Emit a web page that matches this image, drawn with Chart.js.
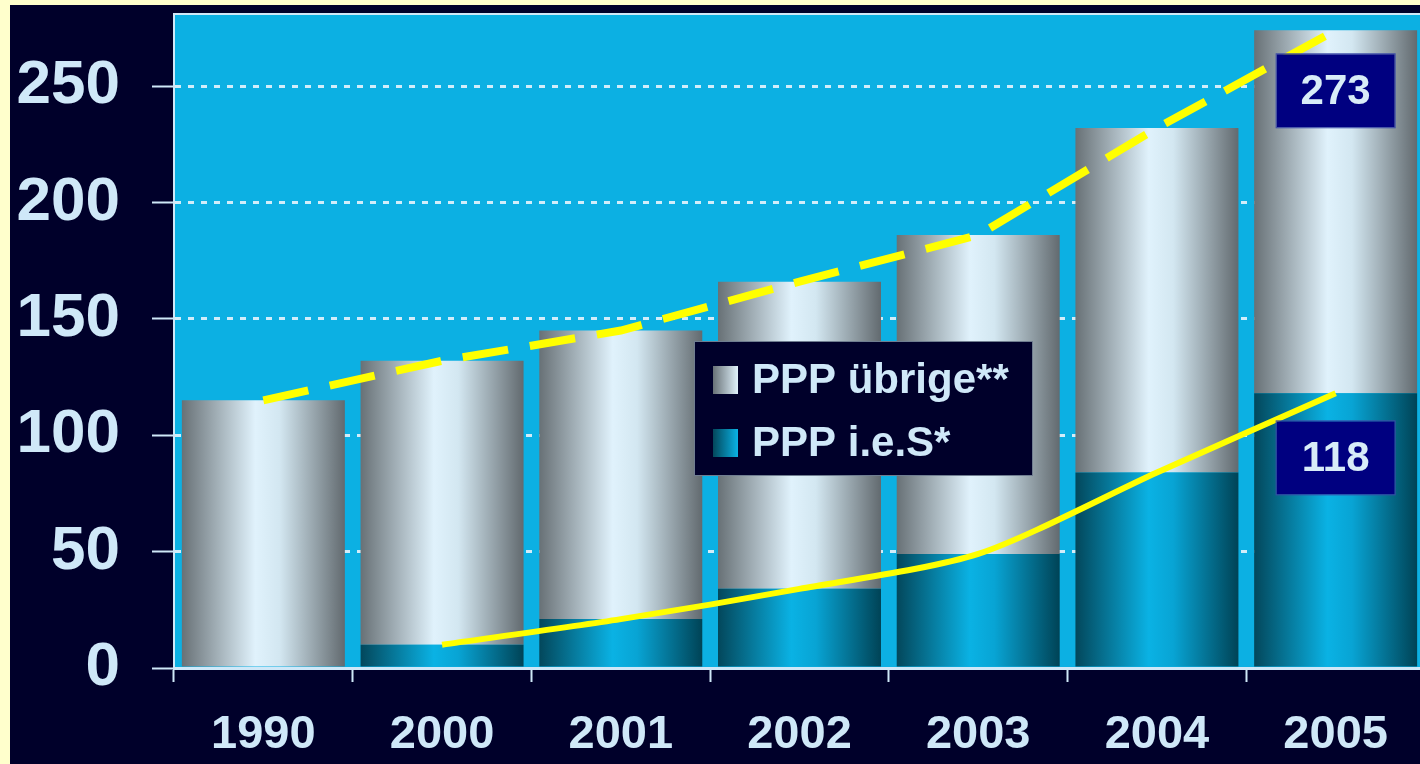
<!DOCTYPE html>
<html><head><meta charset="utf-8">
<script src="https://cdn.jsdelivr.net/npm/chart.js@4"></script>
<style>
html,body{margin:0;padding:0;width:1420px;height:764px;overflow:hidden;background:#ffffcc;}
#wrap{position:absolute;left:10px;top:5px;width:1420px;height:759px;background:#00002a;}
canvas{display:block;}
</style></head><body>
<div id="wrap"><canvas id="c" width="1420" height="759"></canvas></div>
<script>
// ---- data ----
const years = ['1990','2000','2001','2002','2003','2004','2005'];
const pppUebrige = [115,122,124,132,137,148,156];
const pppIeS = [0,10,21,34,49,84,118];
const pppTotal = [115,132,145,166,186,232,274];
const pppIeSLine = [null,10,21,34,49,84,118];
const seriesNames = ['PPP übrige**','PPP i.e.S*'];
const yTicks = [0,50,100,150,200,250];
const totalBoxLabels = ['','','','','','','273'];
const iesBoxLabels = ['','','','','','','118'];

// ---- style ----
const BAR_PCT = 0.912;
const LIGHT = '#cfe8f8';
const FONT = '"Liberation Sans", Arial, sans-serif';
const SILVER = [[0,'#687176'],[0.45,'#e0f2fc'],[0.6,'#d3e7f1'],[1,'#626a6f']];
const BLUE = [[0,'#03475b'],[0.45,'#0ab2e4'],[0.6,'#08a4d4'],[1,'#004356']];

function barGrad(ctx, stops){
  const chart = ctx.chart;
  if (!chart.chartArea || ctx.dataIndex === undefined) return stops[1][1];
  const xs = chart.scales.x;
  const cw = (xs.right - xs.left) / years.length;
  const bw = cw * BAR_PCT;
  const cx = xs.getPixelForValue(ctx.dataIndex);
  const g = chart.ctx.createLinearGradient(cx - bw/2, 0, cx + bw/2, 0);
  stops.forEach(s => g.addColorStop(s[0], s[1]));
  return g;
}

const decor = {
  id: 'decor',
  beforeDraw(chart){
    const {ctx, chartArea: a} = chart;
    ctx.save();
    ctx.fillStyle = '#0cb0e3';
    ctx.fillRect(a.left, a.top, a.right - a.left, a.bottom - a.top);
    ctx.strokeStyle = LIGHT; ctx.lineWidth = 2;
    ctx.beginPath(); ctx.moveTo(a.left, a.top); ctx.lineTo(a.right + 20, a.top); ctx.stroke();
    ctx.restore();
  },
  afterDatasetsDraw(chart){
    const {ctx, chartArea: a, scales: {x, y}} = chart;
    ctx.save();
    // value boxes
    const drawBox = (label, i, v, off) => {
      if (!label) return;
      const cx = x.getPixelForValue(i);
      const cy = y.getPixelForValue(v) + off;
      ctx.fillStyle = '#000080';
      ctx.fillRect(cx - 59, cy - 36, 118, 73);
      ctx.strokeStyle = '#3a4aa8'; ctx.lineWidth = 1;
      ctx.strokeRect(cx - 59.5, cy - 36.5, 119, 74);
      ctx.fillStyle = '#d8ecf8';
      ctx.font = 'bold 42px ' + FONT;
      ctx.textAlign = 'center'; ctx.textBaseline = 'middle';
      ctx.fillText(label, cx, cy + 2);
    };
    totalBoxLabels.forEach((l, i) => drawBox(l, i, pppTotal[i], 60));
    iesBoxLabels.forEach((l, i) => drawBox(l, i, pppIeS[i], 64));
    // legend
    const lx = a.left + 520, ly = a.top + 327, lw = 339, lh = 135;
    ctx.fillStyle = '#00002a';
    ctx.fillRect(lx, ly, lw, lh);
    ctx.strokeStyle = '#6f7d90'; ctx.lineWidth = 1;
    ctx.strokeRect(lx + 0.5, ly + 0.5, lw - 1, lh - 1);
    const rows = [[seriesNames[0], SILVER], [seriesNames[1], BLUE]];
    rows.forEach((r, k) => {
      const cy = ly + 39 + k * 63;
      const sx = lx + 19;
      const g = ctx.createLinearGradient(sx, 0, sx + 25, 0);
      g.addColorStop(0, r[1][0][1]); g.addColorStop(1, r[1][1][1]);
      ctx.fillStyle = g;
      ctx.fillRect(sx, cy - 14, 25, 28);
      ctx.fillStyle = LIGHT;
      ctx.font = 'bold 42px ' + FONT;
      ctx.textAlign = 'left'; ctx.textBaseline = 'middle';
      ctx.fillText(r[0], lx + 58, cy + 1);
    });
    ctx.restore();
  }
};

new Chart(document.getElementById('c'), {
  data: {
    labels: years,
    datasets: [
      { type: 'line', label: 'Trend gesamt', data: pppTotal, stack: 'l1', order: 0,
        borderColor: '#ffff00', borderWidth: 8, borderDash: [46, 22], pointRadius: 0,
        tension: 0, fill: false },
      { type: 'line', label: 'Trend i.e.S', data: pppIeSLine, stack: 'l2', order: 0,
        borderColor: '#ffff00', borderWidth: 6, pointRadius: 0, tension: 0.25, fill: false },
      { type: 'bar', label: seriesNames[1], data: pppIeS, stack: 'bars', order: 1,
        backgroundColor: c => barGrad(c, BLUE), borderWidth: 0,
        barPercentage: BAR_PCT, categoryPercentage: 1 },
      { type: 'bar', label: seriesNames[0], data: pppUebrige, stack: 'bars', order: 1,
        backgroundColor: c => barGrad(c, SILVER), borderWidth: 0,
        barPercentage: BAR_PCT, categoryPercentage: 1 }
    ]
  },
  options: {
    responsive: false, devicePixelRatio: 1, animation: false,
    layout: { padding: { top: 9, right: 5, left: 0, bottom: 0 } },
    plugins: { legend: { display: false }, tooltip: { enabled: false } },
    scales: {
      x: {
        stacked: true, offset: true,
        grid: { offset: true, drawOnChartArea: false, tickLength: 14, tickWidth: 2, tickColor: LIGHT },
        border: { color: LIGHT, width: 3 },
        ticks: { color: LIGHT, padding: 25, maxRotation: 0,
          font: { family: FONT, size: 47, weight: 'bold' } },
        afterFit: s => { s.height = 96; s.paddingLeft = 0; s.paddingRight = 0; }
      },
      y: {
        stacked: true, min: 0, max: 281,
        afterBuildTicks: s => { s.ticks = yTicks.map(v => ({ value: v })); },
        grid: { color: '#d2edfa', lineWidth: 3, tickLength: 22, tickWidth: 2, tickColor: LIGHT, tickBorderDash: [] },
        border: { color: LIGHT, width: 2, dash: [6, 7] },
        ticks: { color: LIGHT, padding: 32,
          font: { family: FONT, size: 62, weight: 'bold' } },
        afterFit: s => { s.width = 164; s.paddingTop = 0; s.paddingBottom = 0; }
      }
    }
  },
  plugins: [decor]
});
</script>
</body></html>
